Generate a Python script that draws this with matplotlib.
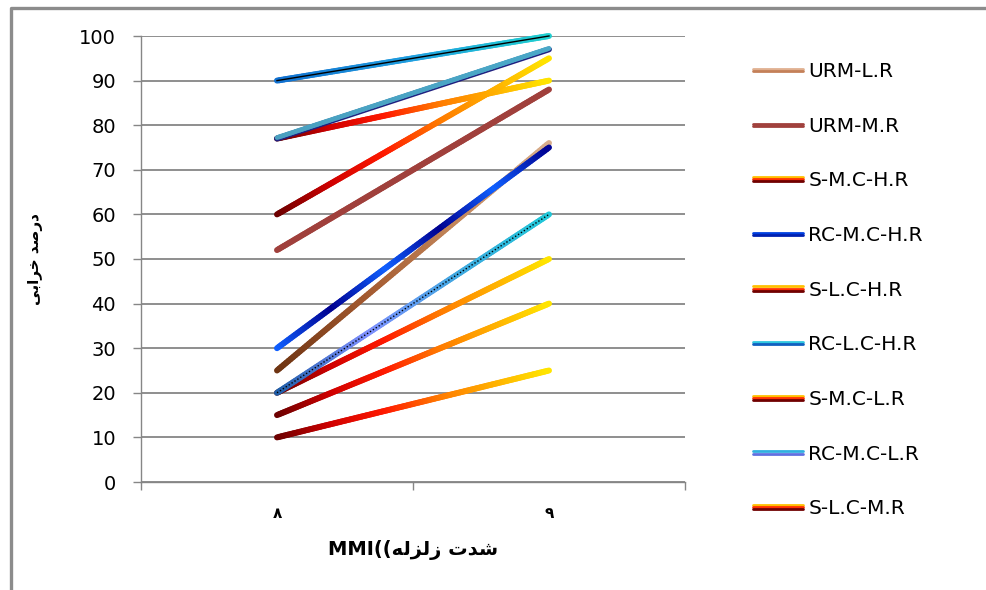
import matplotlib
matplotlib.use('Agg')
import matplotlib.pyplot as plt
import numpy as np
from matplotlib.collections import LineCollection
from matplotlib.colors import LinearSegmentedColormap
from matplotlib.legend_handler import HandlerBase
from matplotlib.lines import Line2D
from matplotlib import transforms

plt.rcParams['font.family'] = ['DejaVu Sans']

# data (damage % at MMI 8 and 9)
categories = ['\u06F8', '\u06F9']
series_names = ['URM-L.R', 'URM-M.R', 'S-M.C-H.R', 'RC-M.C-H.R', 'S-L.C-H.R',
                'RC-L.C-H.R', 'S-M.C-L.R', 'RC-M.C-L.R', 'S-L.C-M.R',
                'RC-L.C-L.R', 'S-M.C-M.R']
dmg_mmi8 = [25, 52, 77, 30, 60, 90, 20, 77, 15, 20, 10]
dmg_mmi9 = [76, 88, 90, 75, 95, 100, 50, 97, 40, 60, 25]
n_legend = 9

# visual-order (presentation form) labels
xlabel_txt = 'MMI((\uFEEA\uFEDF\uFEB0\uFEDF\uFEAF \uFE95\uFEAA\uFEB7'
ylabel_txt = '\uFEF0\uFE91\uFE8D\uFEAE\uFEA7 \uFEAA\uFEBB\uFEAD\uFEA9'

fire = ['#6B0000', '#D00000', '#FF1A00', '#FF7A00', '#FFB000', '#FFE600']
styles = {
    'URM-L.R': dict(grad=['#6E3412', '#A45A30', '#C4885C', '#D8AE8C'],
                    leg=['#E0B090', '#C48058']),
    'URM-M.R': dict(grad=['#A0403C', '#A0403C'], leg=['#A0403C', '#A0403C']),
    'RC-M.C-H.R': dict(grad=['#1060FF', '#000090', '#1060FF', '#000090',
                             '#1060FF', '#000090'],
                       leg=['#0040E0', '#0020B0']),
    'RC-L.C-H.R': dict(grad=['#1070D0', '#20A0E0', '#20D0D0'],
                       leg=['#30C8E0', '#1060C0'], core='solid'),
    'RC-M.C-L.R': dict(grad=['#4AA0C0', '#4AA8C8'], edge='#202080',
                       leg=['#30B0E0', '#6070E0']),
    'RC-L.C-L.R': dict(grad=['#1E5EA8', '#8090FF', '#40A8E0', '#20C8D8'],
                       leg=['#40B0E0', '#3060C0'], core='dotted'),
}
fire_leg = ['#FFC000', '#FF3000', '#700000']


def gradient_line(ax, x, y, colors, lw, zorder, offset=None):
    t = np.linspace(0, 1, 120)
    xs = x[0] + (x[1] - x[0]) * t
    ys = y[0] + (y[1] - y[0]) * t
    pts = np.column_stack([xs, ys]).reshape(-1, 1, 2)
    segs = np.concatenate([pts[:-1], pts[1:]], axis=1)
    cmap = LinearSegmentedColormap.from_list('g', colors)
    trans = ax.transData if offset is None else offset
    lc = LineCollection(segs, colors=cmap(t[:-1]), linewidths=lw,
                        capstyle='round', transform=trans, zorder=zorder,
                        clip_on=False)
    ax.add_collection(lc)


class StripeHandler(HandlerBase):
    def __init__(self, colors, lw=2.0):
        super().__init__()
        self.colors = colors
        self.lw = lw

    def create_artists(self, legend, orig_handle, xdescent, ydescent,
                       width, height, fontsize, trans):
        arts = []
        n = len(self.colors)
        ymid = height / 2.0 - ydescent
        for i, c in enumerate(self.colors):
            yy = ymid + (n - 1) / 2.0 * self.lw * 0.75 - i * self.lw * 0.75
            ln = Line2D([-xdescent, -xdescent + width], [yy, yy], color=c,
                        lw=self.lw, solid_capstyle='round', transform=trans)
            arts.append(ln)
        return arts


fig = plt.figure(figsize=(9.86, 5.90), dpi=100)
ax = fig.add_axes([141 / 986, 1 - 482 / 590, 544 / 986, 446 / 590])

xpos = np.arange(len(categories))
for i, name in enumerate(series_names):
    st = styles.get(name, dict(grad=fire))
    y = [dmg_mmi8[i], dmg_mmi9[i]]
    z = 3 + i * 0.1
    if 'edge' in st:
        ax.plot(xpos, y, color=st['edge'], lw=4.2, solid_capstyle='round',
                zorder=z, clip_on=False)
        up = transforms.offset_copy(ax.transData, fig, x=0, y=0.7,
                                    units='points')
        gradient_line(ax, xpos, y, st['grad'], 3.4, z + 0.01, offset=up)
    else:
        gradient_line(ax, xpos, y, st['grad'], 4.3, z)
    if st.get('core') == 'solid':
        ax.plot(xpos, y, color='black', lw=1.0, zorder=z + 0.02, clip_on=False)
    elif st.get('core') == 'dotted':
        ax.plot(xpos, y, color='black', lw=1.0, ls=(0, (1, 1.5)),
                zorder=z + 0.02, clip_on=False)

ax.set_xlim(-0.5, 1.5)
ax.set_ylim(0, 100)
ax.set_yticks(range(0, 101, 10))
ax.set_xticks(xpos)
ax.set_xticklabels(categories, fontsize=11, fontweight='bold')
ax.set_xticks([-0.5, 0.5, 1.5], minor=True)
ax.tick_params(axis='x', which='major', length=0, pad=17)
ax.tick_params(axis='x', which='minor', length=6, color='#868686', width=1)
ax.tick_params(axis='y', length=6, color='#868686', width=1, pad=12,
               labelsize=14)
ax.grid(axis='y', color='#868686', lw=1.3, zorder=1)
ax.set_axisbelow(True)
for s in ['top', 'right']:
    ax.spines[s].set_visible(False)
for s in ['left', 'bottom']:
    ax.spines[s].set_color('#868686')
    ax.spines[s].set_linewidth(1.0)

ax.set_xlabel(xlabel_txt, fontsize=14, fontweight='bold', labelpad=14)
ax.set_ylabel(ylabel_txt, fontsize=11, fontweight='bold', labelpad=26)

handles = []
hmap = {}
for name in series_names[:n_legend]:
    h = Line2D([], [], color='k')
    handles.append(h)
    st = styles.get(name)
    hmap[h] = StripeHandler(st['leg'] if st else fire_leg)
ax.legend(handles, series_names[:n_legend], handler_map=hmap,
          loc='upper left', bbox_to_anchor=(753 / 986, 1 - 62 / 590),
          bbox_transform=fig.transFigure, frameon=False, fontsize=14.5,
          handlelength=2.5, handletextpad=0.25, labelspacing=1.77,
          borderpad=0, borderaxespad=0)

# outer chart frame (top and left edges visible)
fy = 1 - 8 / 590
fx = 11 / 986
fig.add_artist(Line2D([fx, fx, 1.01], [-0.01, fy, fy], color='#8C8C8C',
                      lw=2.4, transform=fig.transFigure))

fig.savefig('out.png', dpi=100)
